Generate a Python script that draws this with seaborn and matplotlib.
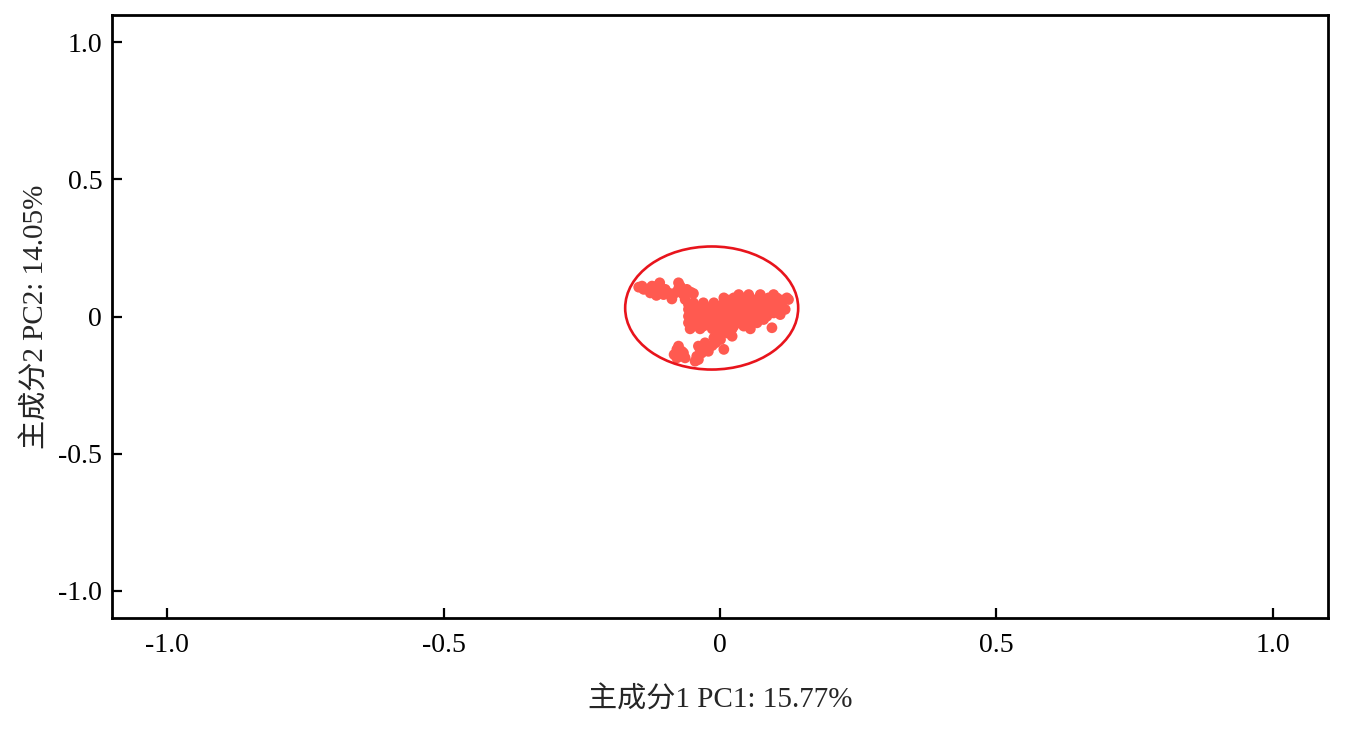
import matplotlib
matplotlib.use("Agg")
import matplotlib.pyplot as plt
import seaborn as sns
import pandas as pd
from matplotlib.patches import Ellipse
from matplotlib.ticker import FixedLocator, FixedFormatter

# PCA scores (PC1, PC2)
pc1 = [
    # upper-left arm
    -0.147, -0.138, -0.129, -0.126, -0.120, -0.114, -0.109, -0.108, -0.115, -0.102,
    -0.093, -0.087, -0.081, -0.075, -0.075, -0.069, -0.060, -0.053, -0.048, -0.063, -0.057,
    -0.141, -0.123, -0.099, -0.087, -0.072, -0.066,
    # main body
    -0.048, -0.030, -0.011, 0.007, 0.025, 0.043, 0.061, 0.079, 0.097,
    0.007, 0.025, 0.040, 0.055, 0.073, 0.088, 0.103, 0.121,
    0.034, 0.052, 0.073, 0.097,
    -0.057, -0.039, -0.021, -0.002, 0.016, 0.034, 0.052, 0.070, 0.088, 0.106, 0.118,
    -0.057, -0.042, -0.024, -0.005, 0.013, 0.031, 0.049, 0.067, 0.085,
    -0.057, -0.039, -0.021, -0.005, 0.013, 0.031, 0.052, 0.067,
    -0.054, -0.036, -0.014, 0.007, 0.022, 0.055,
    -0.051, -0.033, -0.014, 0.004, 0.022, 0.040, 0.058, 0.076, 0.094, 0.112,
    -0.048, -0.030, -0.011, 0.007, 0.025, 0.043, 0.061, 0.079, 0.097,
    -0.048, -0.030, -0.011, 0.007, 0.025, 0.043, 0.061, 0.079,
    -0.048, -0.030, -0.011, 0.007, 0.025, 0.043,
    0.016, 0.034, 0.052, 0.067, 0.082, 0.097, 0.112,
    0.094, 0.109, 0.124,
    # downward stem
    -0.005, 0.013, 0.001, 0.022, 0.004, -0.011,
    # lower groups
    -0.039, -0.027, -0.014, -0.033, -0.042, -0.045, -0.021, 0.007,
    -0.036, -0.024, -0.008, -0.039,
    -0.078, -0.083, -0.072, -0.066, -0.075, -0.063, -0.069, -0.078,
]
pc2 = [
    0.107, 0.099, 0.101, 0.086, 0.099, 0.111, 0.123, 0.099, 0.077, 0.080,
    0.086, 0.064, 0.086, 0.123, 0.101, 0.092, 0.099, 0.089, 0.084, 0.062, 0.044,
    0.111, 0.111, 0.099, 0.080, 0.111, 0.080,
    0.050, 0.050, 0.050, 0.050, 0.050, 0.050, 0.050, 0.050, 0.050,
    0.068, 0.068, 0.068, 0.068, 0.068, 0.068, 0.068, 0.068,
    0.080, 0.080, 0.080, 0.080,
    0.026, 0.026, 0.026, 0.026, 0.026, 0.026, 0.026, 0.026, 0.026, 0.026, 0.026,
    0.001, 0.001, 0.001, 0.001, 0.001, 0.001, 0.001, 0.001, 0.001,
    -0.023, -0.023, -0.023, -0.023, -0.023, -0.023, -0.023, -0.023,
    -0.045, -0.045, -0.045, -0.045, -0.045, -0.045,
    0.038, 0.038, 0.038, 0.038, 0.038, 0.038, 0.038, 0.038, 0.038, 0.038,
    0.013, 0.013, 0.013, 0.013, 0.013, 0.013, 0.013, 0.013, 0.013,
    -0.011, -0.011, -0.011, -0.011, -0.011, -0.011, -0.011, -0.011,
    -0.035, -0.035, -0.035, -0.035, -0.035, -0.035,
    0.060, 0.060, 0.060, 0.060, 0.060, 0.060, 0.060,
    -0.041, 0.007, 0.062,
    -0.066, -0.060, -0.084, -0.072, -0.054, -0.078,
    -0.108, -0.096, -0.106, -0.133, -0.145, -0.163, -0.127, -0.120,
    -0.120, -0.114, -0.096, -0.157,
    -0.120, -0.139, -0.145, -0.133, -0.108, -0.151, -0.127, -0.151,
]

# confidence ellipse
ell_center = (-0.015, 0.031)
ell_width = 0.313
ell_height = 0.449

tick_vals = [-1.0, -0.5, 0, 0.5, 1.0]
tick_labels = ["-1.0", "-0.5", "0", "0.5", "1.0"]
xlabel = "主成分1 PC1: 15.77%"
ylabel = "主成分2 PC2: 14.05%"

sns.set_theme(style="white")
plt.rcParams["font.family"] = ["Liberation Serif", "Noto Sans CJK SC"]
plt.rcParams["axes.unicode_minus"] = False

df = pd.DataFrame({"PC1": pc1, "PC2": pc2})

fig = plt.figure(figsize=(13.47, 7.33), dpi=100)
ax = fig.add_axes([0.0831, 0.1569, 0.9028, 0.8226])

sns.scatterplot(data=df, x="PC1", y="PC2", ax=ax, s=60, color="#FF5A50",
                edgecolor="none", alpha=1.0, zorder=3)

ax.add_patch(Ellipse(ell_center, ell_width, ell_height, fill=False,
                     edgecolor="#E8141C", linewidth=1.9, zorder=4))

ax.set_xlim(-1.1, 1.1)
ax.set_ylim(-1.1, 1.1)
for axis in (ax.xaxis, ax.yaxis):
    axis.set_major_locator(FixedLocator(tick_vals))
    axis.set_major_formatter(FixedFormatter(tick_labels))

for sp in ax.spines.values():
    sp.set_visible(True)
    sp.set_linewidth(2.0)
    sp.set_color("black")

ax.tick_params(axis="both", which="major", direction="in", length=7, width=1.6,
               labelsize=20, color="black", labelcolor="black",
               bottom=True, left=True, top=False, right=False)
ax.tick_params(axis="y", pad=7)
ax.tick_params(axis="x", pad=11)

ax.set_xlabel(xlabel, fontsize=21, labelpad=20)
ax.set_ylabel(ylabel, fontsize=21, labelpad=6)

fig.savefig("out.png", dpi=100)
